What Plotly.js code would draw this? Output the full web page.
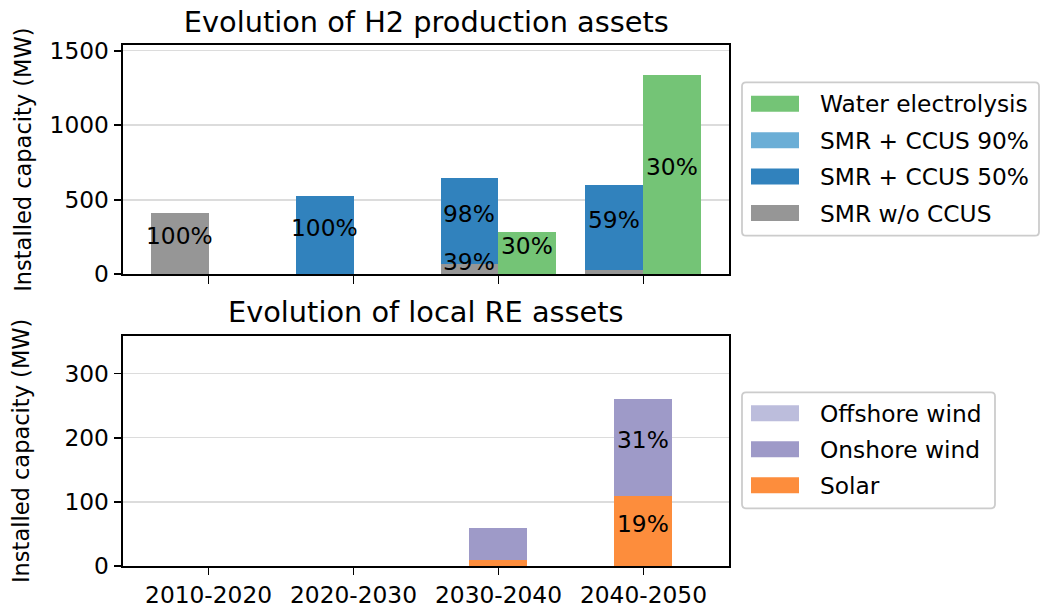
<!DOCTYPE html>
<html>
<head>
<meta charset="utf-8">
<script src="https://cdn.plot.ly/plotly-3.0.1.min.js"></script>
<style>html,body{margin:0;padding:0;background:#fff;}#chart{width:1041px;height:607px;}</style>
</head>
<body>
<div id="chart"></div>
<script>
// ---- data ----
const categories = ["2010-2020", "2020-2030", "2030-2040", "2040-2050"];

const smrNoCcus = [410, 0, 71, 29];
const smrCcus50 = [0, 524, 572, 567];
const smrCcus90 = [0, 0, 0, 0];
const electrolysis = [0, 0, 283, 1340];

const smrNoCcusLabels = ["100%", "", "39%", ""];
const smrCcus50Labels = ["", "100%", "98%", "59%"];
const smrCcus90Labels = ["", "", "", ""];
const electrolysisLabels = ["", "", "30%", "30%"];

const solar = [0, 0, 9, 109];
const onshoreWind = [0, 0, 51, 151];
const offshoreWind = [0, 0, 0, 0];

const solarLabels = ["", "", "", "19%"];
const onshoreLabels = ["", "", "", "31%"];
const offshoreLabels = ["", "", "", ""];

const topTitle = "Evolution of H2 production assets";
const bottomTitle = "Evolution of local RE assets";
const yTitle = "Installed capacity (MW)";

// ---- styling ----
const FONT = "DejaVu Sans, Verdana, sans-serif";
const FS = 23.3, TFS = 28.8, YFS = 22.5;
const W = 1041, H = 607;
const M = {l: 123, r: 312, t: 45, b: 41};
const PW = W - M.l - M.r, PH = H - M.t - M.b;
const px = x => (x - M.l) / PW;
const py = y => (H - M.b - y) / PH;

const idx = categories.map((_, i) => i);
const barW = 0.4;
const smrX = idx.map(i => i - barW / 2);
const elX = idx.map(i => i + barW / 2);

const topSeries = [
  {name: "SMR w/o CCUS", y: smrNoCcus, labels: smrNoCcusLabels, color: "#969696", x: smrX, group: "smr"},
  {name: "SMR + CCUS 50%", y: smrCcus50, labels: smrCcus50Labels, color: "#3182bd", x: smrX, group: "smr"},
  {name: "SMR + CCUS 90%", y: smrCcus90, labels: smrCcus90Labels, color: "#6baed6", x: smrX, group: "smr"},
  {name: "Water electrolysis", y: electrolysis, labels: electrolysisLabels, color: "#74c476", x: elX, group: "el"}
];
const bottomSeries = [
  {name: "Solar", y: solar, labels: solarLabels, color: "#fd8d3c", x: idx},
  {name: "Onshore wind", y: onshoreWind, labels: onshoreLabels, color: "#9e9ac8", x: idx},
  {name: "Offshore wind", y: offshoreWind, labels: offshoreLabels, color: "#bcbddc", x: idx}
];

const traces = [];
const annotations = [];
const shapes = [];
const LABEL_SHIFT = 8;

function addSeries(list, xa, ya) {
  const bases = {};
  list.forEach(s => {
    const key = s.group || "all";
    if (!bases[key]) bases[key] = categories.map(() => 0);
    const base = bases[key];
    traces.push({
      type: "bar", name: s.name, x: s.x, y: s.y, width: barW,
      xaxis: xa, yaxis: ya, showlegend: false,
      marker: {color: s.color, line: {width: 0}},
      hovertemplate: s.name + ": %{y} MW<extra></extra>"
    });
    s.y.forEach((v, i) => {
      if (s.labels[i]) {
        annotations.push({
          xref: xa, yref: ya, x: s.x[i], y: base[i] + v / 2, yshift: LABEL_SHIFT,
          text: s.labels[i], showarrow: false, xanchor: "center", yanchor: "middle",
          font: {family: FONT, size: FS, color: "#000"}
        });
      }
      base[i] += v;
    });
  });
}
addSeries(topSeries, "x", "y");
addSeries(bottomSeries, "x2", "y2");

// ---- custom legends (matplotlib-like) ----
function legendBox(x0, x1, y0, y1) {
  const rx = 4 / PW, ry = 4 / PH;
  const X0 = px(x0), X1 = px(x1), Y0 = py(y1), Y1 = py(y0);
  const path = `M${X0 + rx},${Y1} L${X1 - rx},${Y1} Q${X1},${Y1} ${X1},${Y1 - ry} L${X1},${Y0 + ry} Q${X1},${Y0} ${X1 - rx},${Y0} L${X0 + rx},${Y0} Q${X0},${Y0} ${X0},${Y0 + ry} L${X0},${Y1 - ry} Q${X0},${Y1} ${X0 + rx},${Y1} Z`;
  shapes.push({type: "path", xref: "paper", yref: "paper", path: path,
    fillcolor: "rgba(255,255,255,0.8)", line: {color: "#cccccc", width: 1.8}, layer: "above"});
}
function legendItems(list, yStart, step) {
  list.forEach((s, k) => {
    const yc = yStart + k * step;
    shapes.push({type: "rect", xref: "paper", yref: "paper",
      x0: px(751), x1: px(799), y0: py(yc + 8), y1: py(yc - 8),
      fillcolor: s.color, line: {width: 0}, layer: "above"});
    annotations.push({xref: "paper", yref: "paper", x: px(818), y: py(yc),
      text: s.name, showarrow: false, xanchor: "left", yanchor: "middle",
      font: {family: FONT, size: FS, color: "#000"}});
  });
}
legendBox(742, 1039, 82.3, 235.7);
legendItems(topSeries.slice().reverse(), 103.7, 36.45);
legendBox(742, 995, 392.3, 508.3);
legendItems(bottomSeries.slice().reverse(), 413.3, 36);

// bottom subplot title
annotations.push({xref: "paper", yref: "paper", x: px(426.3), y: py(312),
  text: bottomTitle, showarrow: false, xanchor: "center", yanchor: "middle",
  font: {family: FONT, size: TFS, color: "#000"}});

const axisCommon = {
  showline: true, mirror: true, linecolor: "#000", linewidth: 1.76,
  ticks: "outside", ticklen: 7.7, tickwidth: 1.76, tickcolor: "#000",
  tickfont: {family: FONT, size: FS, color: "#000"},
  zeroline: false, fixedrange: true
};

const layout = {
  width: W, height: H,
  margin: M,
  paper_bgcolor: "#fff", plot_bgcolor: "#fff",
  barmode: "stack", bargap: 0,
  font: {family: FONT, color: "#000"},
  showlegend: false,
  title: {text: topTitle, font: {family: FONT, size: TFS, color: "#000"},
    xref: "container", yref: "container", x: 426.3 / W, xanchor: "center",
    y: 1 - 21.5 / H, yanchor: "middle"},
  xaxis: Object.assign({}, axisCommon, {
    domain: [0, 1], anchor: "y", range: [-0.59, 3.59],
    tickvals: idx, ticktext: categories, showticklabels: false, showgrid: false
  }),
  yaxis: Object.assign({}, axisCommon, {
    domain: [(H - M.b - 274.3) / PH, 1], anchor: "x", range: [0, 1538],
    tickvals: [0, 500, 1000, 1500], showgrid: true, gridcolor: "#dcdcdc", gridwidth: 1.5,
    title: {text: yTitle, font: {family: FONT, size: YFS, color: "#000"}, standoff: 12}
  }),
  xaxis2: Object.assign({}, axisCommon, {
    domain: [0, 1], anchor: "y2", range: [-0.59, 3.59],
    tickvals: idx, ticktext: categories, showgrid: false
  }),
  yaxis2: Object.assign({}, axisCommon, {
    domain: [0, (H - M.b - 335.7) / PH], anchor: "x2", range: [0, 359],
    tickvals: [0, 100, 200, 300], showgrid: true, gridcolor: "#dcdcdc", gridwidth: 1.5,
    title: {text: yTitle, font: {family: FONT, size: YFS, color: "#000"}, standoff: 28}
  }),
  annotations: annotations,
  shapes: shapes
};

Plotly.newPlot("chart", traces, layout, {displayModeBar: false, staticPlot: true});
</script>
</body>
</html>
